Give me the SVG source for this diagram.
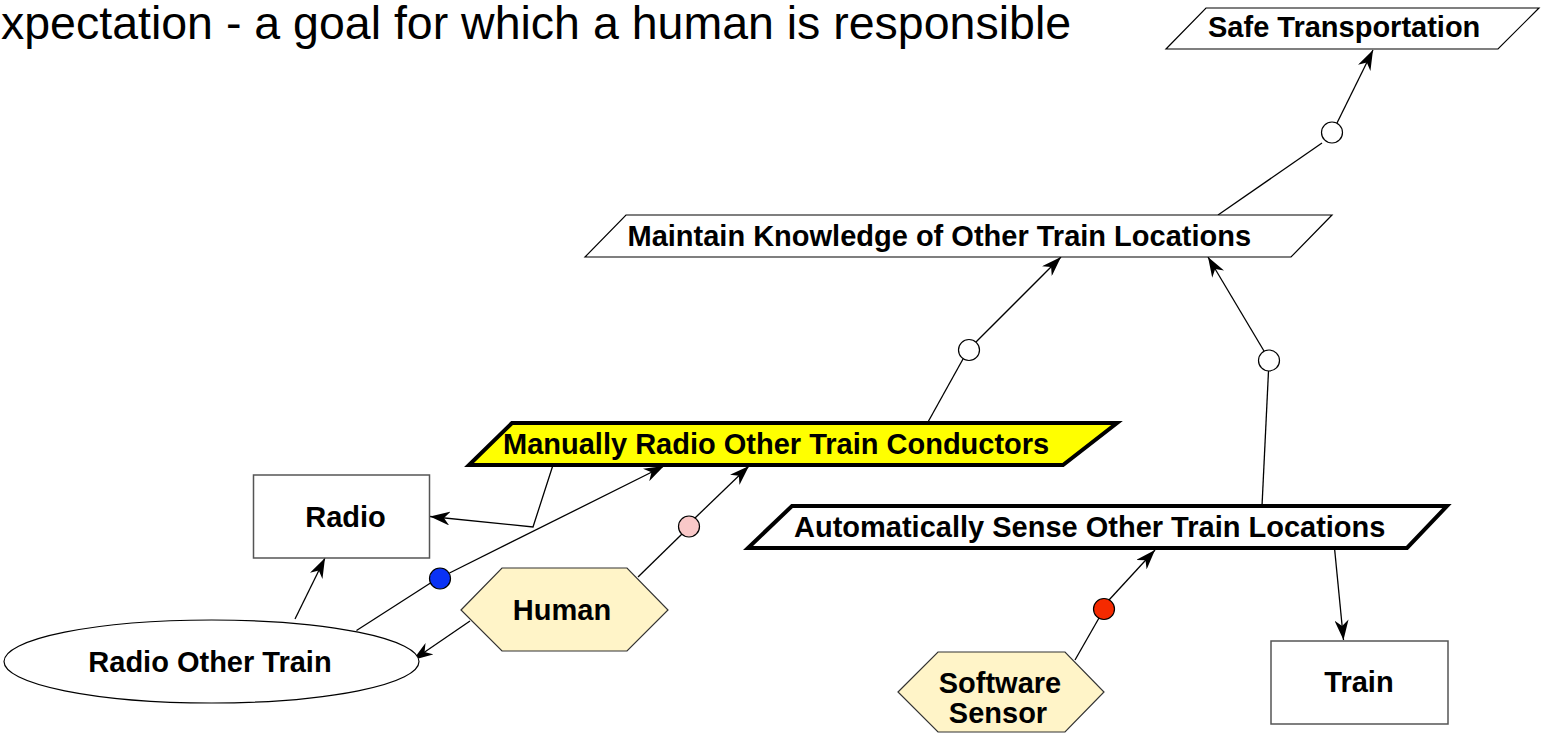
<svg xmlns="http://www.w3.org/2000/svg" width="1546" height="736" viewBox="0 0 1546 736">
<style>
.t{font-family:"Liberation Sans",Arial,Helvetica,sans-serif;font-weight:bold;font-size:29px;fill:#000}
.title{font-family:"Liberation Sans",Arial,Helvetica,sans-serif;font-size:46.5px;fill:#000}
.thin{fill:#fff;stroke:#000;stroke-width:1.2}
.thick{stroke:#000;stroke-width:4;stroke-linejoin:miter}
.box{fill:#fff;stroke:#555;stroke-width:1.5}
.hex{fill:#fff4c8;stroke:#333;stroke-width:1.2}
.c{fill:none;stroke:#000;stroke-width:1.3}
.a{fill:none;stroke:#000;stroke-width:1.3;marker-end:url(#ah)}
.dot{stroke:#000;stroke-width:1.2}
</style>
<defs>
<marker id="ah" markerUnits="userSpaceOnUse" markerWidth="22" markerHeight="14" refX="20" refY="7" orient="auto">
<path d="M0,0 L20,7 L0,14 L6,7 Z" fill="#000"/>
</marker>
</defs>
<rect width="1546" height="736" fill="#fff"/>
<text class="title" x="1" y="39">xpectation - a goal for which a human is responsible</text>

<g id="connectors">
<line class="c" x1="1218" y1="215" x2="1322" y2="143"/>
<line class="a" x1="1337" y1="123" x2="1373" y2="50"/>
<circle class="dot" cx="1332" cy="132.5" r="10.5" fill="#fff"/>

<line class="c" x1="928" y1="422" x2="963" y2="359"/>
<line class="a" x1="976" y1="342" x2="1061" y2="257"/>
<circle class="dot" cx="969" cy="350" r="10.5" fill="#fff"/>

<line class="c" x1="1262" y1="506" x2="1268.5" y2="371"/>
<line class="a" x1="1264" y1="351" x2="1208" y2="257"/>
<circle class="dot" cx="1269" cy="360.5" r="10.5" fill="#fff"/>

<line class="c" x1="1075" y1="660" x2="1099" y2="618"/>
<line class="a" x1="1109" y1="600" x2="1155" y2="550"/>
<circle class="dot" cx="1104" cy="609" r="10.5" fill="#f52a00"/>

<line class="a" x1="1334.5" y1="548" x2="1343.5" y2="640"/>

<line class="c" x1="638" y1="577" x2="682" y2="534"/>
<line class="a" x1="695" y1="518" x2="749" y2="466"/>
<circle class="dot" cx="689" cy="526.5" r="10.5" fill="#f9c8c8"/>

<line class="c" x1="356.5" y1="630.5" x2="430.5" y2="583"/>
<line class="a" x1="449.5" y1="573" x2="664" y2="466"/>
<circle class="dot" cx="440" cy="578.5" r="10.5" fill="#0a32f5"/>

<polyline class="a" points="553,465 533,527 430,516.5"/>
<line class="a" x1="470" y1="621" x2="413" y2="660"/>
<line class="a" x1="295" y1="619" x2="325" y2="558"/>
</g>

<g id="safe-transportation">
<polygon class="thin" points="1206,8 1539,8 1498,49 1166,49"/>
<text class="t" x="1208" y="37">Safe Transportation</text>
</g>

<g id="maintain-knowledge">
<polygon class="thin" points="626,215 1332,215 1291,257 585,257"/>
<text class="t" x="627.5" y="246">Maintain Knowledge of Other Train Locations</text>
</g>

<g id="manually-radio">
<polygon class="thick" fill="#ffff00" points="512,423 1117,423 1063,465 469,465"/>
<text class="t" x="503" y="454">Manually Radio Other Train Conductors</text>
</g>

<g id="automatically-sense">
<polygon class="thick" fill="#fff" points="792,506 1447,506 1407,548 748,548"/>
<text class="t" x="794" y="537">Automatically Sense Other Train Locations</text>
</g>

<g id="radio">
<rect class="box" x="253.5" y="475" width="176" height="83"/>
<text class="t" x="345.5" y="527" text-anchor="middle">Radio</text>
</g>

<g id="radio-other-train">
<ellipse class="thin" cx="211.5" cy="661.5" rx="207.5" ry="41.5"/>
<text class="t" x="210" y="672" text-anchor="middle">Radio Other Train</text>
</g>

<g id="human">
<polygon class="hex" points="461,610 502,568 627,568 668,610 627,651 502,651"/>
<text class="t" x="562" y="619.5" text-anchor="middle">Human</text>
</g>

<g id="software-sensor">
<polygon class="hex" points="898,692 938,652 1065,652 1104,692 1065,732 938,732"/>
<text class="t" x="1000" y="693" text-anchor="middle">Software</text>
<text class="t" x="998" y="722.5" text-anchor="middle">Sensor</text>
</g>

<g id="train">
<rect class="box" x="1271" y="641" width="177" height="83"/>
<text class="t" x="1359" y="692" text-anchor="middle">Train</text>
</g>
</svg>
